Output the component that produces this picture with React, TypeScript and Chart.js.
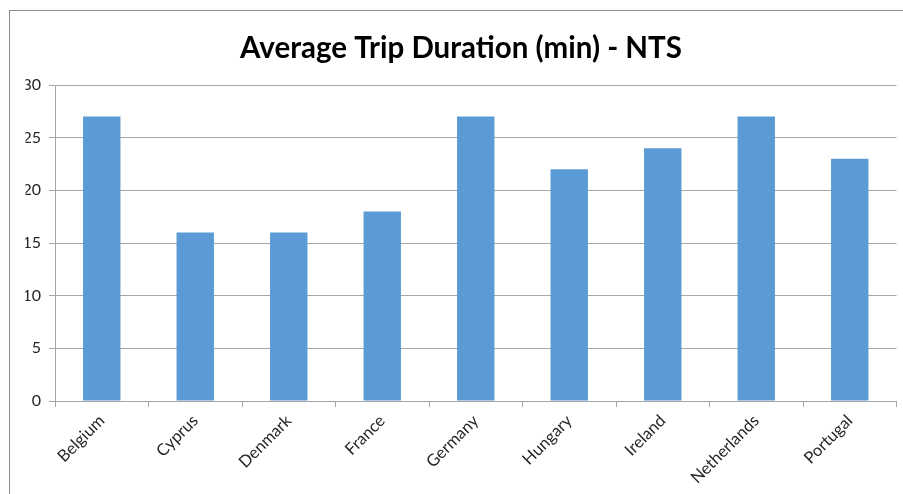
import React, { useEffect, useRef } from "react";
import { Chart, registerables } from "chart.js";

Chart.register(...registerables);

const categories = ["Belgium", "Cyprus", "Denmark", "France", "Germany", "Hungary", "Ireland", "Netherlands", "Portugal"];
const durations = [27, 16, 16, 18, 27, 22, 24, 27, 23];
const yTicks = [0, 5, 10, 15, 20, 25, 30];
const titleText = "Average Trip Duration (min) - NTS";

const FONT = "Lato, 'Open Sans', sans-serif";

export default function App() {
  const ref = useRef<HTMLCanvasElement | null>(null);

  useEffect(() => {
    if (!ref.current) return;
    const chart = new Chart(ref.current, {
      type: "bar",
      data: {
        labels: categories,
        datasets: [
          {
            data: durations,
            backgroundColor: "#5B9BD5",
            borderWidth: 0,
            barPercentage: 0.4,
            categoryPercentage: 1,
          },
        ],
      },
      options: {
        animation: false,
        responsive: false,
        maintainAspectRatio: false,
        layout: { padding: { left: 25.5, right: 6.5, top: 0, bottom: 0 } },
        plugins: {
          legend: { display: false },
          tooltip: { enabled: false },
          title: {
            display: true,
            text: titleText,
            color: "#000000",
            font: { family: FONT, size: 29.5, weight: "bold", lineHeight: 1.2 },
            padding: { top: 31, bottom: 18.6 },
          },
        },
        scales: {
          x: {
            grid: {
              display: true,
              drawOnChartArea: false,
              drawTicks: true,
              tickLength: 6,
              color: "#a6a6a6",
              offset: true,
            },
            border: { display: true, color: "#a6a6a6", width: 1 },
            ticks: {
              maxRotation: 45,
              minRotation: 45,
              autoSkip: false,
              color: "#262626",
              font: { family: FONT, size: 16.5 },
              padding: 4,
            },
            afterFit: (s: any) => {
              s.height = 93;
            },
          },
          y: {
            min: 0,
            max: 30,
            afterBuildTicks: (s: any) => {
              s.ticks = yTicks.map((v) => ({ value: v }));
            },
            grid: {
              color: "#a6a6a6",
              drawTicks: true,
              tickLength: 6,
            },
            border: { display: true, color: "#a6a6a6", width: 1 },
            ticks: {
              color: "#262626",
              font: { family: FONT, size: 16 },
              padding: 8,
            },
            afterFit: (s: any) => {
              s.width = 29.5;
            },
          },
        },
      },
    });
    return () => chart.destroy();
  }, []);

  return (
    <div style={{ position: "fixed", left: 0, top: 0, width: 903, height: 494, background: "#ffffff" }}>
      <div
        style={{
          position: "absolute",
          left: 9,
          top: 10,
          width: 894,
          height: 484,
          borderLeft: "1px solid #8c8c8c",
          borderTop: "1px solid #8c8c8c",
          boxSizing: "border-box",
        }}
      />
      <canvas ref={ref} width={903} height={494} style={{ position: "absolute", left: 0, top: 0, width: 903, height: 494 }} />
    </div>
  );
}
